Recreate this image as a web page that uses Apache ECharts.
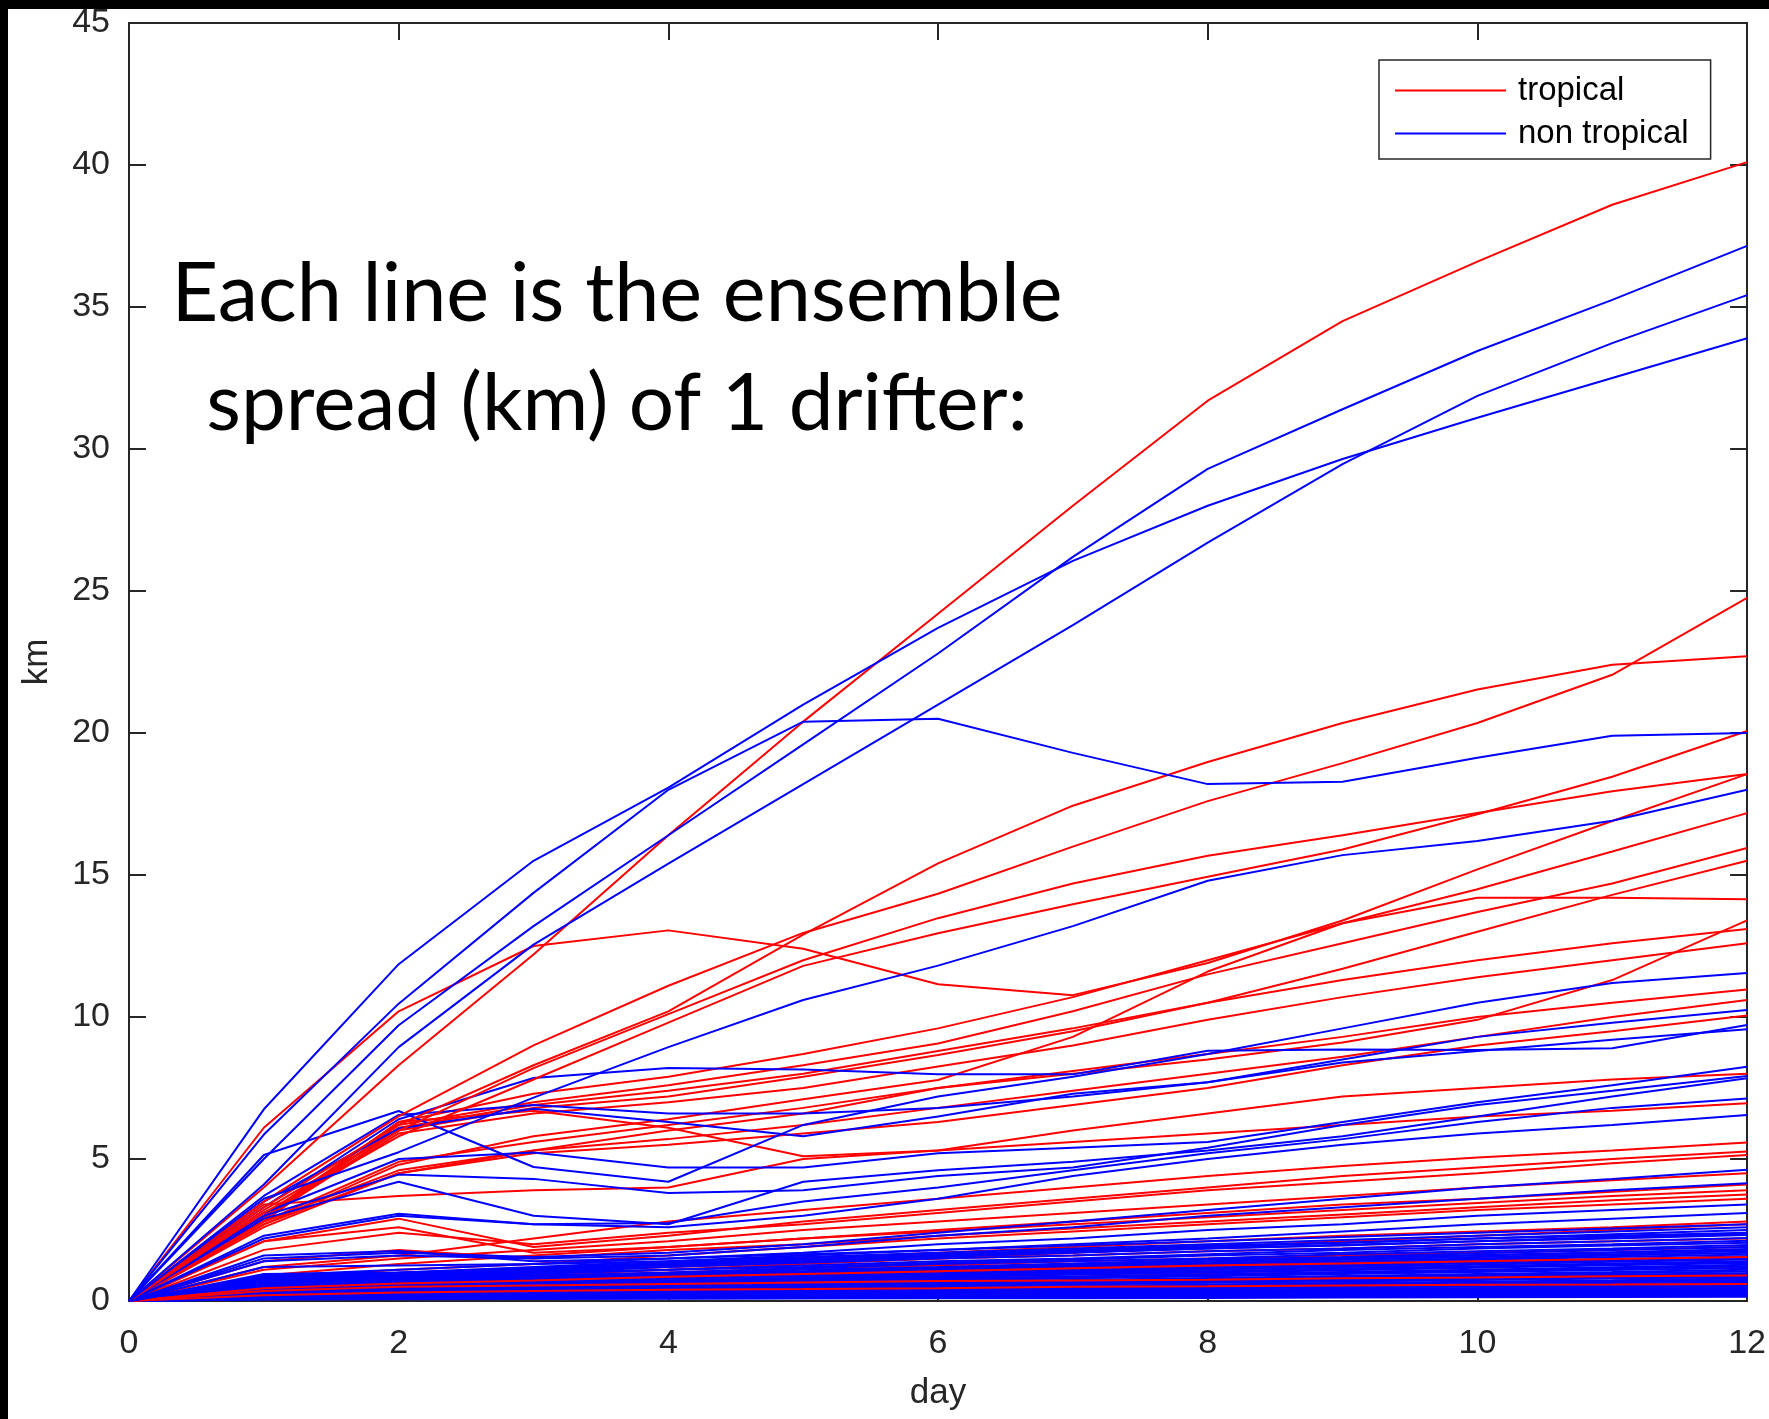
<!DOCTYPE html>
<html>
<head>
<meta charset="utf-8">
<script src="https://cdn.jsdelivr.net/npm/echarts@6/dist/echarts.min.js"></script>
<style>
  html, body { margin: 0; padding: 0; background: #fff; }
  #chart { width: 1769px; height: 1419px; }
</style>
</head>
<body>
<div id="chart"></div>
<script>
// days on the x axis
var days = [0, 1, 2, 3, 4, 5, 6, 7, 8, 9, 10, 11, 12];
var yTicks = [0, 5, 10, 15, 20, 25, 30, 35, 40, 45];

// tropical drifters (red), km per day
var tropicalUpper = [
  [0, 4.0, 8.3, 12.2, 16.4, 20.4, 24.2, 28.0, 31.7, 34.5, 36.6, 38.6, 40.1],
  [0, 6.1, 10.2, 12.5, 13.05, 12.4, 11.15, 10.77, 11.9, 13.4, 15.2, 16.9, 18.55],
  [0, 3.5, 6.5, 9.0, 11.1, 12.96, 14.34, 16.0, 17.6, 18.94, 20.35, 22.05, 24.76],
  [0, 3.3, 6.2, 8.3, 10.2, 12.9, 15.41, 17.44, 18.98, 20.35, 21.53, 22.4, 22.7],
  [0, 3.2, 6.0, 8.2, 10.1, 12.0, 13.48, 14.7, 15.68, 16.4, 17.18, 17.95, 18.56],
  [0, 3.1, 5.8, 7.8, 9.8, 11.8, 12.95, 13.97, 14.94, 15.9, 17.14, 18.46, 20.07]
];
var tropicalMid = [
  [0, 2.9, 6.3, 7.3, 7.9, 8.7, 9.6, 10.7, 12.0, 13.3, 14.5, 15.83, 17.18],
  [0, 2.8, 6.2, 7.0, 7.6, 8.3, 9.07, 10.2, 11.5, 12.6, 13.7, 14.7, 15.95],
  [0, 2.9, 6.0, 6.8, 7.2, 7.9, 8.66, 9.5, 10.5, 11.7, 13.0, 14.3, 15.5],
  [0, 2.7, 4.8, 5.8, 6.4, 7.1, 7.78, 9.3, 11.6, 13.3, 14.2, 14.2, 14.15],
  [0, 2.6, 4.5, 5.3, 6.0, 6.6, 7.5, 8.0, 8.5, 9.1, 9.9, 11.3, 13.4],
  [0, 3.0, 6.1, 6.9, 7.4, 8.0, 8.8, 9.6, 10.5, 11.3, 12.0, 12.6, 13.1],
  [0, 2.9, 5.9, 6.6, 7.0, 7.5, 8.26, 9.0, 9.9, 10.7, 11.4, 12.0, 12.6],
  [0, 2.8, 4.9, 5.6, 6.2, 6.8, 7.5, 8.1, 8.7, 9.3, 10.0, 10.5, 10.97],
  [0, 2.8, 4.6, 5.3, 5.7, 6.2, 6.8, 7.4, 8.0, 8.6, 9.3, 10.0, 10.6],
  [0, 2.7, 4.5, 5.2, 5.5, 5.9, 6.3, 6.9, 7.5, 8.3, 9.0, 9.5, 10.05],
  [0, 3.0, 6.3, 6.7, 6.1, 5.1, 5.3, 6.0, 6.6, 7.2, 7.5, 7.8, 8.0],
  [0, 3.4, 3.7, 3.9, 4.0, 5.0, 5.3, 5.6, 5.9, 6.2, 6.5, 6.7, 6.96]
];
var tropicalLow = [
  [0, 1.2, 1.6, 2.2, 2.8, 3.2, 3.6, 4.0, 4.4, 4.75, 5.05, 5.3, 5.58],
  [0, 2.1, 2.9, 1.9, 2.3, 2.8, 3.2, 3.6, 4.0, 4.4, 4.7, 5.0, 5.26],
  [0, 1.8, 2.4, 2.0, 2.4, 2.7, 3.1, 3.5, 3.9, 4.2, 4.5, 4.85, 5.14],
  [0, 1.1, 1.5, 1.8, 2.1, 2.5, 2.8, 3.1, 3.4, 3.7, 4.0, 4.25, 4.5],
  [0, 2.1, 2.6, 1.7, 1.9, 2.2, 2.5, 2.8, 3.1, 3.4, 3.6, 3.85, 4.1],
  [0, 0.9, 1.3, 1.6, 1.9, 2.2, 2.45, 2.7, 2.95, 3.2, 3.45, 3.7, 3.9],
  [0, 1.4, 1.8, 1.5, 1.8, 2.0, 2.3, 2.55, 2.8, 3.05, 3.3, 3.55, 3.75],
  [0, 0.8, 1.1, 1.3, 1.6, 1.9, 2.2, 2.45, 2.7, 2.95, 3.2, 3.4, 3.6],
  [0, 0.7, 0.9, 1.1, 1.3, 1.5, 1.7, 1.9, 2.1, 2.3, 2.45, 2.6, 2.8],
  [0, 0.6, 0.7, 0.9, 1.1, 1.3, 1.5, 1.7, 1.9, 2.1, 2.3, 2.5, 2.7],
  [0, 0.6, 0.8, 1.0, 1.2, 1.35, 1.5, 1.6, 1.75, 1.85, 2.0, 2.1, 2.2],
  [0, 0.5, 0.7, 0.85, 1.0, 1.15, 1.25, 1.4, 1.5, 1.6, 1.7, 1.8, 1.9],
  [0, 0.4, 0.6, 0.7, 0.8, 0.9, 1.0, 1.1, 1.2, 1.3, 1.35, 1.45, 1.5],
  [0, 0.3, 0.45, 0.55, 0.65, 0.7, 0.8, 0.85, 0.95, 1.0, 1.1, 1.15, 1.2],
  [0, 0.35, 0.5, 0.55, 0.6, 0.65, 0.7, 0.72, 0.75, 0.8, 0.83, 0.87, 0.9],
  [0, 0.2, 0.3, 0.35, 0.4, 0.42, 0.45, 0.5, 0.52, 0.55, 0.57, 0.58, 0.6]
];
// a few red lines that show through the blue mass
var tropicalOnTop = [
  [0, 0.45, 0.62, 0.72, 0.85, 0.95, 1.05, 1.15, 1.25, 1.32, 1.4, 1.48, 1.55],
  [0, 0.35, 0.5, 0.55, 0.6, 0.65, 0.7, 0.72, 0.75, 0.8, 0.83, 0.87, 0.9],
  [0, 0.2, 0.3, 0.35, 0.4, 0.42, 0.45, 0.5, 0.52, 0.55, 0.57, 0.58, 0.6]
];

// non tropical drifters (blue)
var nonTropicalUpper = [
  [0, 6.75, 11.86, 15.5, 18.08, 21.0, 23.7, 26.06, 28.0, 29.65, 31.1, 32.5, 33.9],
  [0, 5.0, 9.71, 13.2, 16.4, 19.6, 22.8, 26.2, 29.3, 31.4, 33.45, 35.25, 37.15],
  [0, 5.86, 10.47, 14.37, 18.0, 20.4, 20.5, 19.3, 18.2, 18.28, 19.13, 19.9, 20.0],
  [0, 4.1, 8.94, 12.55, 15.4, 18.2, 21.0, 23.8, 26.7, 29.47, 31.87, 33.73, 35.42],
  [0, 3.6, 5.24, 7.16, 8.94, 10.6, 11.81, 13.2, 14.8, 15.7, 16.2, 16.91, 18.0]
];
var nonTropicalMid = [
  [0, 5.14, 6.69, 4.72, 4.2, 6.2, 7.2, 7.9, 8.7, 9.6, 10.5, 11.2, 11.55],
  [0, 3.3, 6.4, 7.85, 8.2, 8.15, 7.98, 7.98, 8.81, 8.86, 8.84, 8.9, 9.72],
  [0, 3.7, 6.55, 6.9, 6.6, 6.6, 6.8, 7.2, 7.7, 8.4, 8.8, 9.2, 9.57],
  [0, 3.5, 6.07, 6.77, 6.3, 5.8, 6.5, 7.3, 7.7, 8.5, 9.3, 9.8, 10.25],
  [0, 3.1, 5.0, 5.23, 4.7, 4.7, 5.2, 5.4, 5.6, 6.3, 7.0, 7.6, 8.25],
  [0, 3.0, 4.45, 4.3, 3.8, 3.9, 4.4, 4.7, 5.4, 6.2, 6.9, 7.4, 7.92],
  [0, 2.9, 4.2, 3.0, 2.7, 4.2, 4.6, 4.9, 5.3, 5.8, 6.5, 7.2, 7.84],
  [0, 2.3, 3.07, 2.7, 2.75, 3.5, 4.0, 4.6, 5.2, 5.7, 6.3, 6.8, 7.13],
  [0, 2.2, 3.0, 2.7, 2.6, 3.0, 3.6, 4.4, 5.0, 5.5, 5.9, 6.2, 6.55],
  [0, 1.5, 1.7, 1.55, 1.7, 2.0, 2.4, 2.8, 3.2, 3.6, 4.0, 4.3, 4.62],
  [0, 1.4, 1.6, 1.5, 1.6, 1.9, 2.3, 2.6, 3.0, 3.3, 3.6, 3.9, 4.15],
  [0, 0.9, 1.1, 1.3, 1.5, 1.7, 2.0, 2.2, 2.5, 2.7, 3.0, 3.2, 3.4],
  [0, 0.8, 1.0, 1.2, 1.4, 1.6, 1.8, 2.0, 2.2, 2.45, 2.7, 2.9, 3.1],
  [0, 0.8, 0.9, 1.1, 1.3, 1.4, 1.6, 1.75, 1.9, 2.05, 2.2, 2.35, 2.5],
  [0, 1.6, 1.76, 1.4, 1.5, 1.65, 1.8, 1.95, 2.1, 2.25, 2.4, 2.55, 2.7],
  [0, 1.2, 1.25, 1.3, 1.4, 1.55, 1.7, 1.85, 2.0, 2.15, 2.3, 2.45, 2.6]
];
var nonTropicalBundle = [
  [0, 0.85, 0.95, 1.15, 1.35, 1.5, 1.65, 1.8, 1.95, 2.05, 2.2, 2.3, 2.4],
  [0, 0.8, 0.9, 1.05, 1.25, 1.4, 1.55, 1.7, 1.85, 1.95, 2.1, 2.2, 2.32],
  [0, 0.75, 0.85, 1.0, 1.2, 1.35, 1.5, 1.6, 1.75, 1.85, 2.0, 2.1, 2.22],
  [0, 0.9, 0.92, 1.0, 1.1, 1.25, 1.4, 1.5, 1.65, 1.8, 1.9, 2.0, 2.12],
  [0, 0.7, 0.8, 0.95, 1.1, 1.2, 1.35, 1.45, 1.6, 1.7, 1.85, 1.95, 2.05],
  [0, 0.65, 0.75, 0.9, 1.0, 1.15, 1.3, 1.4, 1.5, 1.65, 1.75, 1.85, 1.97],
  [0, 0.8, 0.82, 0.88, 0.98, 1.1, 1.2, 1.32, 1.45, 1.55, 1.68, 1.8, 1.9],
  [0, 0.6, 0.7, 0.82, 0.95, 1.05, 1.18, 1.3, 1.4, 1.52, 1.62, 1.72, 1.83],
  [0, 0.55, 0.65, 0.78, 0.9, 1.0, 1.12, 1.22, 1.33, 1.45, 1.55, 1.65, 1.76],
  [0, 0.85, 0.8, 0.8, 0.88, 0.98, 1.08, 1.2, 1.3, 1.4, 1.5, 1.6, 1.7],
  [0, 0.5, 0.6, 0.72, 0.83, 0.93, 1.05, 1.15, 1.25, 1.35, 1.45, 1.55, 1.64],
  [0, 0.45, 0.58, 0.68, 0.78, 0.88, 0.98, 1.08, 1.18, 1.28, 1.38, 1.48, 1.58],
  [0, 0.7, 0.72, 0.75, 0.8, 0.88, 0.96, 1.05, 1.14, 1.24, 1.33, 1.43, 1.52],
  [0, 0.4, 0.52, 0.62, 0.72, 0.82, 0.92, 1.0, 1.1, 1.2, 1.28, 1.38, 1.46],
  [0, 0.6, 0.62, 0.66, 0.72, 0.8, 0.88, 0.96, 1.05, 1.14, 1.22, 1.32, 1.4],
  [0, 0.38, 0.48, 0.58, 0.66, 0.75, 0.84, 0.92, 1.0, 1.08, 1.17, 1.26, 1.34],
  [0, 0.35, 0.45, 0.55, 0.63, 0.7, 0.78, 0.86, 0.94, 1.02, 1.1, 1.19, 1.28],
  [0, 0.5, 0.55, 0.58, 0.62, 0.68, 0.75, 0.82, 0.9, 0.98, 1.06, 1.14, 1.22],
  [0, 0.32, 0.42, 0.5, 0.58, 0.65, 0.72, 0.8, 0.87, 0.95, 1.02, 1.09, 1.16],
  [0, 0.3, 0.38, 0.46, 0.54, 0.6, 0.67, 0.74, 0.81, 0.88, 0.95, 1.02, 1.1],
  [0, 0.45, 0.48, 0.5, 0.54, 0.58, 0.64, 0.7, 0.77, 0.84, 0.91, 0.98, 1.04],
  [0, 0.28, 0.35, 0.42, 0.49, 0.55, 0.61, 0.68, 0.74, 0.8, 0.86, 0.92, 0.98],
  [0, 0.26, 0.32, 0.39, 0.45, 0.51, 0.57, 0.63, 0.69, 0.75, 0.81, 0.87, 0.93],
  [0, 0.4, 0.42, 0.44, 0.47, 0.5, 0.55, 0.6, 0.66, 0.72, 0.77, 0.83, 0.88],
  [0, 0.24, 0.3, 0.36, 0.42, 0.47, 0.53, 0.58, 0.64, 0.69, 0.74, 0.79, 0.84],
  [0, 0.22, 0.28, 0.33, 0.38, 0.43, 0.48, 0.53, 0.58, 0.63, 0.68, 0.73, 0.79],
  [0, 0.35, 0.36, 0.38, 0.4, 0.43, 0.47, 0.51, 0.56, 0.61, 0.65, 0.7, 0.74],
  [0, 0.2, 0.25, 0.3, 0.35, 0.4, 0.44, 0.49, 0.53, 0.58, 0.62, 0.66, 0.7],
  [0, 0.18, 0.23, 0.28, 0.32, 0.36, 0.4, 0.44, 0.48, 0.53, 0.57, 0.61, 0.65],
  [0, 0.3, 0.31, 0.32, 0.34, 0.37, 0.4, 0.44, 0.48, 0.52, 0.55, 0.58, 0.61],
  [0, 0.17, 0.21, 0.25, 0.29, 0.33, 0.37, 0.4, 0.44, 0.48, 0.51, 0.54, 0.57],
  [0, 0.15, 0.19, 0.23, 0.27, 0.3, 0.33, 0.37, 0.4, 0.43, 0.46, 0.5, 0.53],
  [0, 0.25, 0.26, 0.27, 0.28, 0.3, 0.33, 0.36, 0.39, 0.42, 0.45, 0.47, 0.49],
  [0, 0.14, 0.17, 0.2, 0.23, 0.26, 0.29, 0.32, 0.35, 0.38, 0.41, 0.43, 0.45],
  [0, 0.12, 0.15, 0.18, 0.21, 0.24, 0.26, 0.29, 0.32, 0.34, 0.37, 0.39, 0.41],
  [0, 0.2, 0.21, 0.22, 0.23, 0.25, 0.27, 0.29, 0.31, 0.33, 0.35, 0.36, 0.37],
  [0, 0.1, 0.13, 0.16, 0.18, 0.2, 0.22, 0.25, 0.27, 0.29, 0.31, 0.32, 0.33],
  [0, 0.09, 0.11, 0.13, 0.15, 0.17, 0.19, 0.21, 0.23, 0.25, 0.27, 0.28, 0.29],
  [0, 0.15, 0.16, 0.17, 0.18, 0.19, 0.2, 0.21, 0.22, 0.23, 0.24, 0.25, 0.26],
  [0, 0.08, 0.1, 0.12, 0.13, 0.15, 0.16, 0.17, 0.18, 0.19, 0.2, 0.21, 0.22],
  [0, 0.06, 0.08, 0.09, 0.1, 0.11, 0.12, 0.13, 0.14, 0.15, 0.16, 0.17, 0.18],
  [0, 0.05, 0.06, 0.07, 0.08, 0.09, 0.1, 0.1, 0.11, 0.12, 0.13, 0.14, 0.15],
  [0, 0.95, 1.0, 1.1, 1.3, 1.45, 1.6, 1.72, 1.85, 1.98, 2.1, 2.25, 2.36],
  [0, 0.62, 0.68, 0.8, 0.92, 1.02, 1.15, 1.26, 1.38, 1.5, 1.6, 1.7, 1.8],
  [0, 0.42, 0.5, 0.6, 0.7, 0.78, 0.87, 0.95, 1.04, 1.12, 1.2, 1.3, 1.37],
  [0, 0.27, 0.33, 0.4, 0.46, 0.52, 0.58, 0.64, 0.7, 0.76, 0.82, 0.88, 0.95],
  [0, 0.13, 0.16, 0.19, 0.22, 0.25, 0.28, 0.31, 0.34, 0.37, 0.4, 0.42, 0.44]
];

var RED = '#ff0000';
var BLUE = '#0000ff';
var AXIS = '#262626';
var FONT = 'Liberation Sans, Arial, sans-serif';

function makeLines(rows, name, color) {
  return rows.map(function (r) {
    return {
      name: name,
      type: 'line',
      symbol: 'none',
      silent: true,
      lineStyle: { color: color, width: 2 },
      itemStyle: { color: color },
      data: r.map(function (v, i) { return [days[i], v]; })
    };
  });
}

// draw order: low red, dense blue over it, then the rest
var series = []
  .concat(makeLines(tropicalLow, 'tropical', RED))
  .concat(makeLines(nonTropicalBundle, 'non tropical', BLUE))
  .concat(makeLines(tropicalOnTop, 'tropical', RED))
  .concat(makeLines(tropicalMid, 'tropical', RED))
  .concat(makeLines(nonTropicalMid, 'non tropical', BLUE))
  .concat(makeLines(tropicalUpper, 'tropical', RED))
  .concat(makeLines(nonTropicalUpper, 'non tropical', BLUE));

var chart = echarts.init(document.getElementById('chart'));

var axisLine = { show: true, onZero: false, lineStyle: { color: AXIS, width: 2 } };
var tick = { show: true, inside: true, length: 17, lineStyle: { color: AXIS, width: 2 } };

var option = {
  animation: false,
  backgroundColor: '#fff',
  grid: { left: 129, top: 23, width: 1620, height: 1278 },
  legend: {
    data: ['tropical', 'non tropical'],
    orient: 'vertical',
    left: 1379,
    top: 60,
    icon: 'rect',
    itemWidth: 111,
    itemHeight: 2,
    itemGap: 10,
    padding: [14, 22, 9, 16],
    borderColor: AXIS,
    borderWidth: 1.5,
    backgroundColor: '#fff',
    selectedMode: false,
    textStyle: { fontFamily: FONT, fontSize: 33, color: '#000', padding: [0, 0, 0, 7] }
  },
  xAxis: [
    {
      type: 'value', min: 0, max: 12, interval: 2,
      name: 'day', nameLocation: 'middle', nameGap: 75,
      nameTextStyle: { fontFamily: FONT, fontSize: 35, color: AXIS },
      axisLine: axisLine, axisTick: tick,
      axisLabel: { margin: 26, fontFamily: FONT, fontSize: 34, color: AXIS },
      splitLine: { show: false }
    },
    {
      type: 'value', min: 0, max: 12, interval: 2, position: 'top',
      axisLine: axisLine, axisTick: tick,
      axisLabel: { show: false }, splitLine: { show: false }
    }
  ],
  yAxis: [
    {
      type: 'value', min: 0, max: 45, interval: 5,
      name: 'km', nameLocation: 'middle', nameGap: 74,
      nameTextStyle: { fontFamily: FONT, fontSize: 35, color: AXIS },
      axisLine: axisLine, axisTick: tick,
      axisLabel: {
        margin: 19, fontFamily: FONT, fontSize: 34, color: AXIS,
        formatter: function (v) { return yTicks.indexOf(v) >= 0 ? String(v) : ''; }
      },
      splitLine: { show: false }
    },
    {
      type: 'value', min: 0, max: 45, interval: 5, position: 'right',
      axisLine: axisLine, axisTick: tick,
      axisLabel: { show: false }, splitLine: { show: false }
    }
  ],
  graphic: [
    {
      type: 'text', z: 100, x: 617, y: 295,
      style: {
        text: 'Each line is the ensemble',
        fontFamily: 'Lato, Noto Sans, sans-serif', fontSize: 81,
        fill: '#000', align: 'center', verticalAlign: 'middle'
      }
    },
    {
      type: 'text', z: 100, x: 617, y: 404,
      style: {
        text: 'spread (km) of 1 drifter:',
        fontFamily: 'Lato, Noto Sans, sans-serif', fontSize: 80,
        fill: '#000', align: 'center', verticalAlign: 'middle'
      }
    },
    // black frame left by the crop
    { type: 'rect', z: 200, shape: { x: 0, y: 0, width: 1769, height: 9 }, style: { fill: '#000' } },
    { type: 'rect', z: 200, shape: { x: 0, y: 0, width: 8, height: 1419 }, style: { fill: '#000' } }
  ],
  series: series
};

chart.setOption(option);
</script>
</body>
</html>
